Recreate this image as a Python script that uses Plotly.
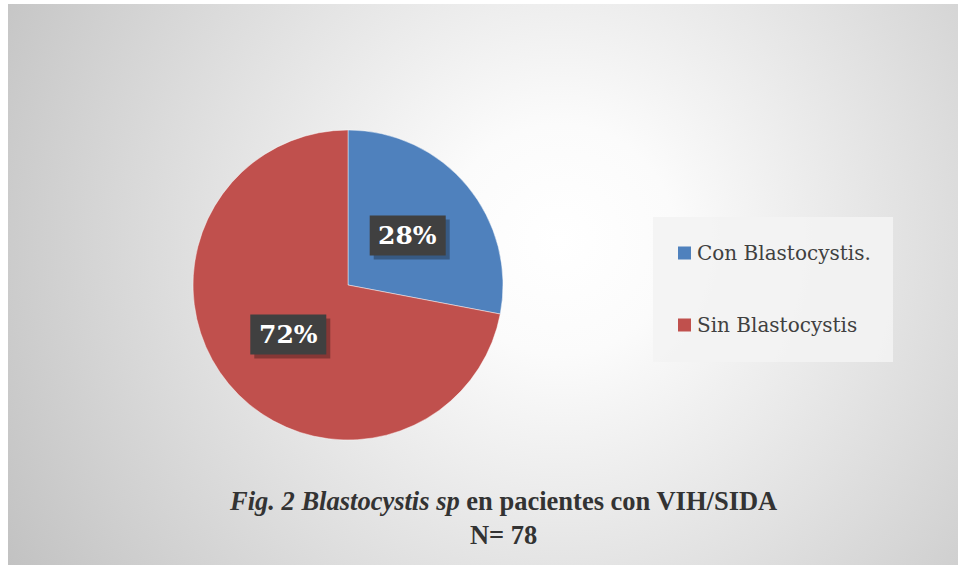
import base64
import math
import plotly.graph_objects as go

# data
labels = ["Con Blastocystis.", "Sin Blastocystis"]
values = [28, 72]
colors = ["#4f81bd", "#c0504d"]
pct_text = ["28%", "72%"]

W, H = 958, 565

# radial grey background as an svg data uri
svg = f"""<svg xmlns="http://www.w3.org/2000/svg" width="{W-8}" height="{H-4}">
<defs><radialGradient id="g" gradientUnits="userSpaceOnUse" cx="552" cy="236" r="640">
<stop offset="0" stop-color="#ffffff"/><stop offset="0.18" stop-color="#fbfbfb"/>
<stop offset="1" stop-color="#c2c2c2"/></radialGradient></defs>
<rect width="100%" height="100%" fill="url(#g)"/></svg>"""
bg_src = "data:image/svg+xml;base64," + base64.b64encode(svg.encode()).decode()

# pie geometry (pixels)
cx, cy, r = 348, 285, 155

fig = go.Figure(go.Pie(
    labels=labels,
    values=values,
    marker=dict(colors=colors, line=dict(color="rgba(255,255,255,0.45)", width=1)),
    sort=False,
    direction="clockwise",
    rotation=0,
    textinfo="none",
    hoverinfo="label+percent",
    showlegend=False,
    domain=dict(x=[(cx - r) / W, (cx + r) / W], y=[1 - (cy + r) / H, 1 - (cy - r) / H]),
))

annotations = []
shapes = []

# percentage boxes in the middle of each slice
total = sum(values)
start = 90.0
bw, bh = 76, 40
for v, t in zip(values, pct_text):
    mid = start - v / total * 360 / 2
    start -= v / total * 360
    px = cx + 0.5 * r * math.cos(math.radians(mid))
    py = cy - 0.5 * r * math.sin(math.radians(mid))
    # drop shadow
    shapes.append(dict(type="rect", xref="paper", yref="paper",
                       x0=(px - bw / 2 + 4) / W, x1=(px + bw / 2 + 4) / W,
                       y0=1 - (py + bh / 2 + 4) / H, y1=1 - (py - bh / 2 + 4) / H,
                       fillcolor="rgba(0,0,0,0.3)", line=dict(width=0)))
    shapes.append(dict(type="rect", xref="paper", yref="paper",
                       x0=(px - bw / 2) / W, x1=(px + bw / 2) / W,
                       y0=1 - (py + bh / 2) / H, y1=1 - (py - bh / 2) / H,
                       fillcolor="#404040", line=dict(width=0)))
    annotations.append(dict(
        x=px / W, y=1 - py / H, xref="paper", yref="paper",
        xanchor="center", yanchor="middle",
        text=f"<b>{t}</b>", showarrow=False,
        font=dict(family="DejaVu Serif", size=25, color="white"),
    ))

# legend drawn by hand
shapes.append(dict(type="rect", xref="paper", yref="paper", layer="below",
                   x0=653 / W, x1=893 / W, y0=1 - 362 / H, y1=1 - 217 / H,
                   fillcolor="rgba(243,243,243,0.9)", line=dict(width=0)))
for i, (lab, col) in enumerate(zip(labels, colors)):
    ly = 253 + i * 72
    shapes.append(dict(type="rect", xref="paper", yref="paper",
                       x0=678 / W, x1=691 / W, y0=1 - (ly + 6.5) / H, y1=1 - (ly - 6.5) / H,
                       fillcolor=col, line=dict(width=0)))
    annotations.append(dict(
        x=695 / W, y=1 - ly / H, xref="paper", yref="paper",
        xanchor="left", yanchor="middle",
        text=lab, showarrow=False,
        font=dict(family="DejaVu Serif", size=20, color="#404040"),
    ))

# caption
annotations.append(dict(
    x=503 / W, y=1 - 518 / H, xref="paper", yref="paper",
    xanchor="center", yanchor="middle",
    text="<b><i>Fig. 2 Blastocystis sp</i> en pacientes con VIH/SIDA<br>N= 78</b>",
    showarrow=False, align="center",
    font=dict(family="Liberation Serif, Times New Roman, serif", size=26.5, color="#333333"),
))

fig.update_layout(
    width=W, height=H,
    margin=dict(l=0, r=0, t=0, b=0),
    paper_bgcolor="white",
    images=[dict(source=bg_src, xref="paper", yref="paper",
                 x=8 / W, y=1 - 4 / H, sizex=1 - 8 / W, sizey=1 - 4 / H,
                 xanchor="left", yanchor="top", sizing="stretch", layer="below")],
    shapes=shapes,
    annotations=annotations,
)

fig.write_html("out.html", config={"displayModeBar": False},
               post_script="document.body.style.margin='0';")
